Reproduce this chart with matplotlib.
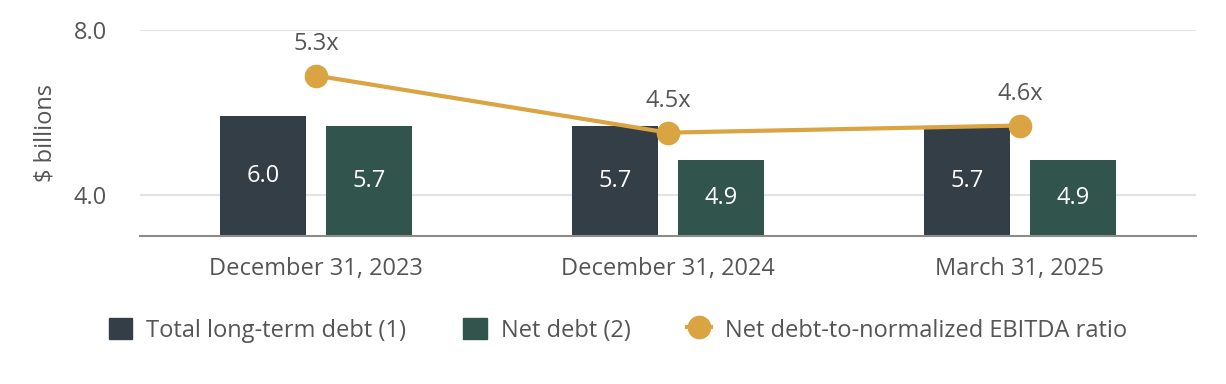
import numpy as np
import matplotlib.pyplot as plt
from matplotlib.lines import Line2D
from matplotlib.patches import Patch

plt.rcParams["font.family"] = ["Open Sans", "DejaVu Sans"]

# data
periods = ["December 31, 2023", "December 31, 2024", "March 31, 2025"]
total_debt = [5.92, 5.67, 5.67]
total_labels = ["6.0", "5.7", "5.7"]
net_debt = [5.67, 4.85, 4.85]
net_labels = ["5.7", "4.9", "4.9"]
ratio = [5.3, 4.5, 4.6]
ratio_labels = ["5.3x", "4.5x", "4.6x"]

dark = "#343e46"
green = "#31544c"
gold = "#d9a441"
text_gray = "#555555"
fs = 17

fig = plt.figure(figsize=(12.26, 3.84), dpi=100)
ax = fig.add_axes([0.1142, 0.3854, 0.8613, 0.5365])

x = np.arange(len(periods))
w = 0.244
off = 0.15
bottom = 3.0
ax.bar(x - off, np.array(total_debt) - bottom, w, bottom=bottom, color=dark, zorder=2)
ax.bar(x + off, np.array(net_debt) - bottom, w, bottom=bottom, color=green, zorder=2)

for xi, v, lab in zip(x, total_debt, total_labels):
    ax.text(xi - off, (v + bottom) / 2, lab, ha="center", va="center",
            color="white", fontsize=fs, zorder=3)
for xi, v, lab in zip(x, net_debt, net_labels):
    ax.text(xi + off, (v + bottom) / 2, lab, ha="center", va="center",
            color="white", fontsize=fs, zorder=3)

ax.set_xlim(-0.5, 2.5)
ax.set_ylim(3.0, 8.0)
ax.set_yticks([4.0, 8.0])
ax.set_yticklabels(["4.0", "8.0"])
ax.set_xticks(x)
ax.set_xticklabels(periods)
ax.tick_params(axis="both", length=0, labelsize=fs, colors=text_gray)
ax.tick_params(axis="x", pad=15)
ax.tick_params(axis="y", pad=24)
ax.grid(axis="y", color="#e3e3e3", linewidth=1.5, zorder=0)
for s in ["top", "right", "left"]:
    ax.spines[s].set_visible(False)
ax.spines["bottom"].set_color("#8c8c8c")
ax.spines["bottom"].set_linewidth(1.5)
ax.set_ylabel("$ billions", fontsize=fs, color=text_gray)
ax.yaxis.set_label_coords(-0.078, 0.5)

# ratio on hidden secondary axis
ax2 = ax.twinx()
ax2.set_ylim(3.05, 5.94)
ax2.axis("off")
ax2.plot(x, ratio, color=gold, linewidth=3, marker="o", markersize=16, zorder=4)
for xi, v, lab in zip(x, ratio, ratio_labels):
    ax2.annotate(lab, (xi, v), xytext=(0, 14), textcoords="offset points",
                 ha="center", va="bottom", fontsize=fs, color=text_gray)

handles = [
    Patch(color=dark, label="Total long-term debt (1)"),
    Patch(color=green, label="Net debt (2)"),
    Line2D([0], [0], color=gold, linewidth=3, marker="o", markersize=16,
           label="Net debt-to-normalized EBITDA ratio"),
]
fig.legend(handles=handles, loc="center", bbox_to_anchor=(0.504, 0.14), ncol=3,
           frameon=False, fontsize=fs, labelcolor=text_gray, handlelength=1.0,
           handleheight=1.0, columnspacing=2.4, handletextpad=0.6)

fig.savefig("out.png", dpi=100)
